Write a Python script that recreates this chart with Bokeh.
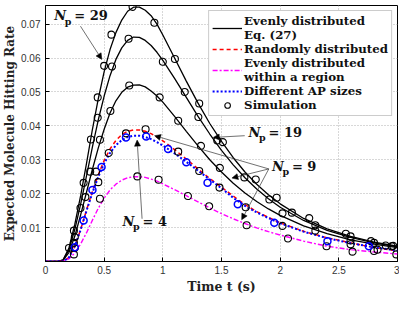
from bokeh.plotting import figure
from bokeh.models import Range1d, Legend, LegendItem, Label, Arrow, NormalHead
from bokeh.embed import file_html
from bokeh.resources import INLINE

# ---- data ----
t_curve = [0, 0.1, 0.15, 0.2, 0.25, 0.3, 0.35, 0.4, 0.45, 0.5, 0.55, 0.6, 0.65, 0.7,
           0.75, 0.8, 0.85, 0.9, 0.95, 1.0, 1.1, 1.2, 1.3, 1.4, 1.5, 1.6, 1.7, 1.8,
           1.9, 2.0, 2.2, 2.4, 2.6, 2.8, 3.0]
even_29 = [0, 0, 0.0005, 0.004, 0.011, 0.0195, 0.029, 0.039, 0.048, 0.056,
           0.0625, 0.0675, 0.0712, 0.0738, 0.0750, 0.0750, 0.0741, 0.0725, 0.0700, 0.0668,
           0.0600, 0.0532, 0.0467, 0.0407, 0.0354, 0.0306, 0.0264, 0.0228, 0.0197, 0.0170,
           0.0127, 0.0096, 0.0074, 0.0057, 0.0045]
even_19 = [0, 0, 0.0004, 0.0035, 0.0095, 0.017, 0.0253, 0.0338, 0.0418, 0.0488,
           0.0548, 0.0596, 0.0630, 0.0652, 0.0662, 0.0661, 0.0652, 0.0637, 0.0617, 0.0593,
           0.0540, 0.0484, 0.0428, 0.0376, 0.0328, 0.0285, 0.0247, 0.0214, 0.0185, 0.0160,
           0.0121, 0.0092, 0.0071, 0.0055, 0.0043]
even_9 = [0, 0, 0.0003, 0.0027, 0.0075, 0.0138, 0.0205, 0.0272, 0.0335, 0.039,
          0.0438, 0.0474, 0.0499, 0.0514, 0.0520, 0.0521, 0.0515, 0.0503, 0.0488, 0.0470,
          0.0428, 0.0384, 0.0341, 0.0300, 0.0264, 0.0231, 0.0202, 0.0177, 0.0155, 0.0136,
          0.0105, 0.0082, 0.0064, 0.0051, 0.0041]
randomly = [0, 0, 0, 0.0012, 0.0045, 0.0095, 0.0152, 0.0207, 0.0256, 0.0298,
            0.0332, 0.0357, 0.0374, 0.0384, 0.0388, 0.0388, 0.0384, 0.0377, 0.0367, 0.0356,
            0.0330, 0.0302, 0.0273, 0.0245, 0.0219, 0.0193, 0.0168, 0.0147, 0.0130, 0.0114,
            0.0089, 0.0070, 0.0055, 0.0041, 0.0031]
ap_sizes = [0, 0, 0, 0.0012, 0.0045, 0.0094, 0.015, 0.0203, 0.025, 0.0289,
            0.032, 0.0343, 0.0358, 0.0367, 0.0371, 0.0371, 0.0367, 0.0361, 0.0352, 0.0342,
            0.0319, 0.0294, 0.0268, 0.0242, 0.0216, 0.0188, 0.0164, 0.0145, 0.0128, 0.0113,
            0.0088, 0.0069, 0.0054, 0.0042, 0.0032]
region = [0, 0, 0, 0.0008, 0.0025, 0.0052, 0.0085, 0.0122, 0.0157, 0.0187,
          0.0211, 0.0228, 0.0240, 0.0247, 0.0250, 0.0250, 0.0248, 0.0243, 0.0237, 0.0229,
          0.0212, 0.0194, 0.0176, 0.0158, 0.0141, 0.0126, 0.0112, 0.0099, 0.0088, 0.0078,
          0.0060, 0.0045, 0.0035, 0.0028, 0.0022]

sim29_t = [0.2, 0.242, 0.325, 0.387, 0.445, 0.5, 0.562, 0.742, 0.928, 1.103, 1.31, 1.512,
           1.792, 1.97, 2.1, 2.3, 2.56, 2.775, 2.964]
sim29_y = [0.004, 0.0091, 0.0232, 0.036, 0.0484, 0.0577, 0.0669, 0.0751, 0.0704, 0.0597,
           0.0466, 0.0352, 0.0242, 0.0188, 0.0144, 0.0107, 0.0082, 0.006, 0.0046]
sim19_t = [0.242, 0.298, 0.381, 0.445, 0.567, 0.708, 1.0, 1.187, 1.303, 1.464, 1.695,
           1.908, 2.248, 2.6, 2.8, 2.95]
sim19_y = [0.0055, 0.0158, 0.0265, 0.0424, 0.0575, 0.0657, 0.0589, 0.05, 0.0426, 0.0357,
           0.0248, 0.0183, 0.0128, 0.0074, 0.0055, 0.0045]
sim9_t = [0.25, 0.34, 0.431, 0.464, 0.553, 0.714, 0.973, 1.131, 1.325, 1.486, 2.02, 2.3,
          2.6, 2.9]
sim9_y = [0.0072, 0.019, 0.0265, 0.0359, 0.0444, 0.0519, 0.0484, 0.0415, 0.0341, 0.0276,
          0.0142, 0.0091, 0.0062, 0.0047]
simr_t = [0.25, 0.45, 0.464, 0.539, 0.686, 0.853, 1.131, 1.31, 1.483, 1.706, 2.02, 2.6, 2.83]
simr_y = [0.004, 0.0234, 0.0185, 0.032, 0.0378, 0.039, 0.0324, 0.0267, 0.0218, 0.016,
          0.0105, 0.0051, 0.0035]
simb_t = [0.25, 0.325, 0.4, 0.478, 0.686, 0.858, 1.045, 1.2, 1.381, 1.639, 1.95, 2.403, 2.756]
simb_y = [0.0042, 0.0121, 0.0211, 0.0279, 0.0366, 0.0369, 0.0332, 0.0293, 0.0232, 0.0169,
          0.0114, 0.006, 0.0045]
simm_t = [0.242, 0.783, 0.964, 1.214, 1.395, 1.714, 2.067, 2.395, 2.617, 2.8, 2.99]
simm_y = [0.0021, 0.0251, 0.0241, 0.0193, 0.0163, 0.0107, 0.0068, 0.0045, 0.0029, 0.0031,
          0.0021]

x_ticks = [0, 0.5, 1, 1.5, 2, 2.5, 3]
x_tick_labels = ["0", "0.5", "1", "1.5", "2", "2.5", "3"]
y_ticks = [0.01, 0.02, 0.03, 0.04, 0.05, 0.06, 0.07]

SERIF = "DejaVu Serif"
SANS = "Liberation Sans"
INK = "#111111"

p = figure(width=399, height=296, output_backend="svg", toolbar_location=None,
           x_range=Range1d(0, 3), y_range=Range1d(0, 0.0755),
           min_border_left=42, min_border_right=2, min_border_top=5, min_border_bottom=30)
p.background_fill_color = "white"
p.outline_line_color = "black"
p.outline_line_width = 1

for ax in (p.xaxis[0], p.yaxis[0]):
    ax.axis_line_color = "black"
    ax.major_tick_line_color = "black"
    ax.major_tick_in = 4
    ax.major_tick_out = 0
    ax.minor_tick_line_color = None
    ax.major_label_text_font = SANS
    ax.major_label_text_font_size = "10px"
    ax.major_label_text_color = "#333333"
    ax.axis_label_text_font = SERIF
    ax.axis_label_text_font_style = "bold"
    ax.axis_label_text_font_size = "12px"
    ax.axis_label_text_color = "#222222"

p.xaxis.ticker = x_ticks
p.xaxis.major_label_overrides = {k: v for k, v in zip(x_ticks, x_tick_labels)}
p.xaxis.major_label_standoff = 4
p.xaxis.axis_label = "Time t (s)"
p.xaxis.axis_label_standoff = 2
p.xaxis.axis_label_text_font_size = "12.5px"
p.yaxis.ticker = y_ticks
p.yaxis.major_label_standoff = 5
p.yaxis.axis_label = "Expected Molecule Hitting Rate"
p.yaxis.axis_label_standoff = 1

p.grid.grid_line_color = "#b0b0b0"
p.grid.grid_line_dash = "1 2"
p.grid.grid_line_width = 1

# ---- curves ----
l_even = None
for ys in (even_29, even_19, even_9):
    r = p.line(t_curve, ys, line_color="black", line_width=1.3)
    l_even = l_even or r
l_rand = p.line(t_curve, randomly, line_color="#ff0000", line_width=1.5, line_dash="4 3")
l_reg = p.line(t_curve, region, line_color="#ff00ff", line_width=1.4, line_dash="5 2 2 2")
l_ap = p.line(t_curve, ap_sizes, line_color="#0000ff", line_width=2, line_dash="2 2")

s_first = None
for tt, yy in ((sim29_t, sim29_y), (sim19_t, sim19_y), (sim9_t, sim9_y),
               (simr_t, simr_y), (simm_t, simm_y)):
    r = p.scatter(tt, yy, marker="circle", size=7, fill_color=None,
                  line_color="black", line_width=1.1)
    s_first = s_first or r
p.scatter(simb_t, simb_y, marker="circle", size=7, fill_color=None,
          line_color="#0000ff", line_width=1.5)

legend = Legend(items=[
    LegendItem(label="Evenly distributed\nEq. (27)", renderers=[l_even]),
    LegendItem(label="Randomly distributed", renderers=[l_rand]),
    LegendItem(label="Evenly distributed\nwithin a region", renderers=[l_reg]),
    LegendItem(label="Different AP sizes", renderers=[l_ap]),
    LegendItem(label="Simulation", renderers=[s_first]),
], location="top_right")
legend.label_text_font = SERIF
legend.label_text_font_style = "bold"
legend.label_text_font_size = "11.8px"
legend.label_text_color = INK
legend.label_height = 14
legend.label_text_line_height = 1.25
legend.glyph_width = 30
legend.glyph_height = 14
legend.label_standoff = 2
legend.spacing = 0
legend.padding = 3
legend.margin = 5
legend.border_line_color = "#9a9a9a"
legend.border_line_width = 1
legend.background_fill_alpha = 1
p.add_layout(legend)

# ---- annotations ----
def np_label(x, y, num):
    p.add_layout(Label(x=x, y=y, text="N", text_font=SERIF, text_font_style="bold italic",
                       text_font_size="13px", text_color=INK))
    p.add_layout(Label(x=x, y=y - 0.0009, x_offset=10.5, text="p", text_font=SERIF,
                       text_font_style="bold", text_font_size="9.5px", text_color=INK))
    p.add_layout(Label(x=x, y=y, x_offset=20, text="= " + num, text_font=SERIF,
                       text_font_style="bold", text_font_size="13px", text_color=INK))

np_label(0.075, 0.0702, "29")
np_label(1.731, 0.0358, "19")
np_label(1.93, 0.0257, "9")
np_label(0.656, 0.0095, "4")

def arrow(x0, y0, x1, y1):
    p.add_layout(Arrow(x_start=x0, y_start=y0, x_end=x1, y_end=y1, line_width=0.7,
                       line_color="#333333",
                       end=NormalHead(size=6, fill_color="black", line_color="black",
                                      line_width=0.5)))

arrow(0.298, 0.0694, 0.48, 0.0596)
arrow(1.698, 0.0371, 1.43, 0.0366)
arrow(1.903, 0.0273, 0.93, 0.0371)
arrow(1.903, 0.0273, 1.589, 0.0246)
arrow(1.903, 0.0273, 1.672, 0.0123)
arrow(0.823, 0.0126, 0.781, 0.0358)

open("out.html", "w").write(file_html(p, INLINE))
